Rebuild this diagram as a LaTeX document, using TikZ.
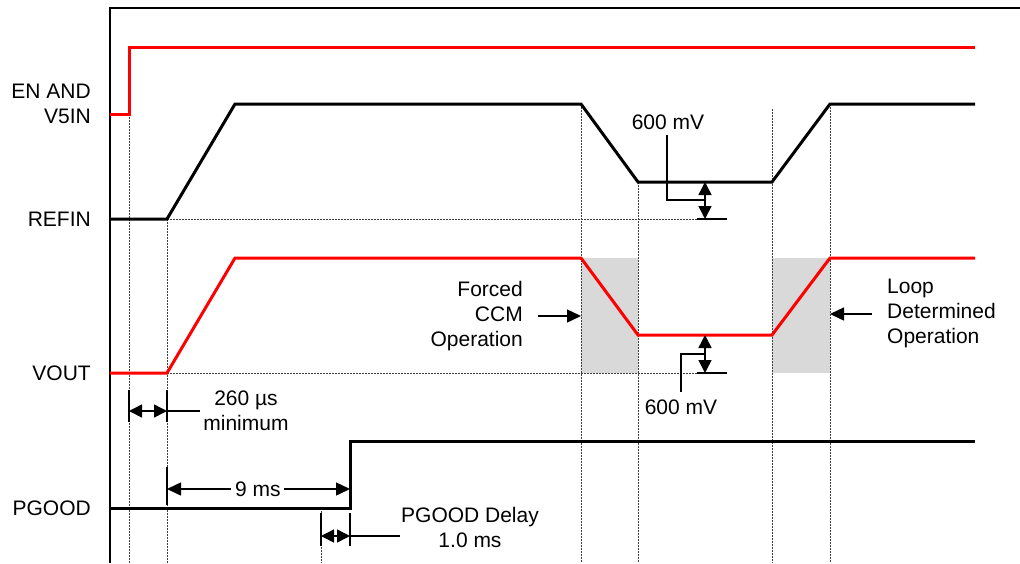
\documentclass[tikz,border=0pt]{standalone}
\usepackage{fontspec}
\setmainfont{Liberation Sans}
\usetikzlibrary{arrows.meta}
\tikzset{
  sig/.style={line width=3pt, line join=miter},
  redsig/.style={sig, draw={rgb,255:red,255;green,0;blue,0}},
  blksig/.style={sig, draw=black},
  frame/.style={line width=2pt, draw=black},
  guide/.style={line width=0.8pt, draw=black!75, dash pattern=on 1.5pt off 1.5pt},
  dim/.style={line width=1.5pt, draw=black},
  dimarr/.style={dim, -{Triangle[length=14pt,width=13pt]}},
  dimarrs/.style={dim, {Triangle[length=13pt,width=13pt]}-{Triangle[length=13pt,width=13pt]}},
  lbl/.style={font=\fontsize{21pt}{25pt}\selectfont, inner sep=0pt},
  shade/.style={fill={rgb,255:red,217;green,217;blue,217}, draw=none}
}
\begin{document}
\begin{tikzpicture}[x=1pt,y=-1pt]
\useasboundingbox (0,0) rectangle (1020,563);
% shaded regions
\fill[shade] (581,258) rectangle (638,373);
\fill[shade] (772,258) rectangle (830,373);
% guides
\draw[guide] (129,114) -- (129,563);
\draw[guide] (167,219) -- (167,563);
\draw[guide] (321,508) -- (321,563);
\draw[guide] (581,104) -- (581,563);
\draw[guide] (638,182) -- (638,563);
\draw[guide] (772,109) -- (772,563);
\draw[guide] (830,104) -- (830,563);
\draw[guide] (167,219) -- (697,219);
\draw[guide] (167,373) -- (697,373);
% frame
\draw[frame] (1020,8) -- (110,8) -- (110,563);
% signals
\draw[redsig] (110,114) -- (129,114) -- (129,47) -- (975,47);
\draw[blksig] (110,219) -- (167,219) -- (235,104) -- (581,104) -- (638,182) -- (772,182) -- (830,104) -- (975,104);
\draw[redsig] (110,373) -- (167,373) -- (235,258) -- (581,258) -- (638,335) -- (772,335) -- (830,258) -- (975,258);
\draw[blksig] (110,508) -- (350,508) -- (350,441) -- (975,441);
% left labels
\node[lbl, anchor=east, align=right] (en) at (91,104) {EN AND\\V5IN};
\node[lbl, anchor=east] (refin) at (91,219) {REFIN};
\node[lbl, anchor=east] (vout) at (91,373) {VOUT};
\node[lbl, anchor=east] (pgood) at (91,508) {PGOOD};
% 600 mV top
\node[lbl] (mvtop) at (668,122) {600 mV};
\coordinate (ta) at (705,182);
\coordinate (tb) at (705,219);
\draw[dimarrs] (ta) -- (tb);
\draw[dim] (697,219) -- (727,219);
\draw[dim] (667,135) -- (667,200) -- (705,200);
% 600 mV bottom
\node[lbl] (mvbot) at (681,407) {600 mV};
\coordinate (ba) at (705,335);
\coordinate (bb) at (705,373);
\draw[dimarrs] (ba) -- (bb);
\draw[dim] (697,373) -- (727,373);
\draw[dim] (681,392) -- (681,354) -- (705,354);
% forced CCM
\node[lbl, anchor=east, align=right] (fccm) at (523,316) {Forced\\CCM\\Operation};
\coordinate (fa) at (538,316);
\coordinate (fb) at (581,316);
\draw[dimarr] (fa) -- (fb);
% loop determined
\node[lbl, anchor=west, align=left] (ldo) at (887,313) {Loop\\Determined\\Operation};
\coordinate (la) at (872,314);
\coordinate (lb) at (830,314);
\draw[dimarr] (la) -- (lb);
% 260 us
\draw[dim] (129,390) -- (129,422);
\draw[dim] (167,390) -- (167,422);
\coordinate (ua) at (129,411);
\coordinate (ub) at (167,411);
\draw[dimarrs] (ua) -- (ub);
\draw[dim] (167,411) -- (200,411);
\node[lbl, align=center] (us) at (246,411) {260 µs\\minimum};
% 9 ms
\draw[dim] (167,467) -- (167,505);
\node[lbl] (nine) at (258,489) {9 ms};
\coordinate (na) at (167,489);
\coordinate (nb) at (350,489);
\draw[dimarr] (nine.west) ++(-4,0) -- (na);
\draw[dimarr] (nine.east) ++(3,0) -- (nb);
% PGOOD delay
\draw[dim] (321,513) -- (321,546);
\draw[dim] (350,513) -- (350,546);
\coordinate (pa) at (321,536);
\coordinate (pb) at (350,536);
\draw[dimarrs] (pa) -- (pb);
\draw[dim] (350,536) -- (400,536);
\node[lbl, align=center] (pgd) at (470,527) {PGOOD Delay\\1.0 ms};
\end{tikzpicture}
\end{document}
